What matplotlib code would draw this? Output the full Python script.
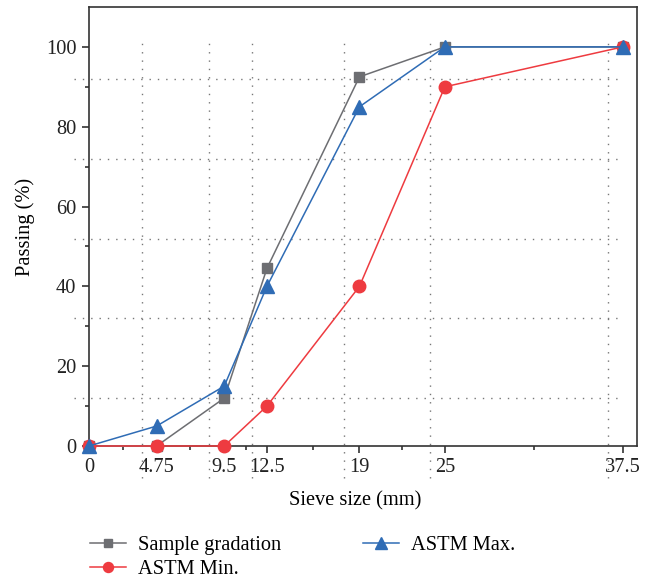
import matplotlib
matplotlib.use("Agg")
import matplotlib.pyplot as plt
import matplotlib.transforms as mtransforms
from matplotlib.ticker import FixedLocator

sieve = [0, 4.75, 9.5, 12.5, 19, 25, 37.5]
sieve_labels = ["0", "4.75", "9.5", "12.5", "19", "25", "37.5"]
sample = [0, 0, 12, 44.5, 92.5, 100, 100]
astm_min = [0, 0, 0, 10, 40, 90, 100]
astm_max = [0, 5, 15, 40, 85, 100, 100]
y_ticks = [0, 20, 40, 60, 80, 100]

plt.rcParams['font.family'] = ['Liberation Serif', 'DejaVu Serif']
FS = 14.7

fig = plt.figure(figsize=(6.53, 5.84), dpi=100)
ax = fig.add_axes([89/653, 1-446/584, (637-89)/653, (446-7)/584])

c_gray = '#6d6e72'
c_red = '#ee3b40'
c_blue = '#2f6cb5'

l1, = ax.plot(sieve, sample, color=c_gray, lw=1.1, marker='s', ms=7.5, clip_on=False, zorder=3, label='Sample gradation')
l2, = ax.plot(sieve, astm_min, color=c_red, lw=1.1, marker='o', ms=9, clip_on=False, zorder=4, label='ASTM Min.')
l3, = ax.plot(sieve, astm_max, color=c_blue, lw=1.1, marker='^', ms=10, clip_on=False, zorder=5, label='ASTM Max.')

ax.set_xlim(0, 38.5)
ax.set_ylim(0, 110)
ax.set_xticks(sieve)
ax.set_xticklabels(sieve_labels)
mids = [(a + b) / 2 for a, b in zip(sieve[:-1], sieve[1:])]
ax.xaxis.set_minor_locator(FixedLocator(mids))
ax.set_yticks(y_ticks)
ax.yaxis.set_minor_locator(FixedLocator([v + 10 for v in y_ticks[:-1]]))

ax.tick_params(which='major', direction='out', length=5, width=1.1, colors='#222222', labelsize=FS, pad=4)
ax.tick_params(which='minor', direction='out', length=3, width=1.1, colors='#222222')
for s in ax.spines.values():
    s.set_color('#333333')
    s.set_linewidth(1.2)

# shifted dotted grid (as in reference rendering)
off = mtransforms.ScaledTranslation(-15/100, -32/100, fig.dpi_scale_trans)
for xv in sieve[1:]:
    ax.plot([xv, xv], [0, 1], color='#777777', lw=1.0, ls=(0, (1, 5)), clip_on=False,
            transform=ax.get_xaxis_transform() + off, zorder=1)
for yv in y_ticks[1:]:
    ax.plot([0, 1], [yv, yv], color='#777777', lw=1.0, ls=(0, (1, 5)), clip_on=False,
            transform=ax.get_yaxis_transform() + off, zorder=1)

ax.set_xlabel('Sieve size (mm)', fontsize=FS)
ax.xaxis.set_label_coords((355-89)/548, -(501-446)/439, transform=ax.transAxes)
ax.xaxis.label.set_va('center')
ax.set_ylabel('Passing (%)', fontsize=FS, labelpad=8)

fig.legend(handles=[l1, l2, l3], ncol=2, loc='upper left',
           bbox_to_anchor=(90/653, 1-536/584), frameon=False, fontsize=FS,
           handlelength=1.75, handletextpad=0.6, columnspacing=4.0,
           labelspacing=0.22, borderpad=0, borderaxespad=0, markerscale=0.8)

fig.savefig('out.png', dpi=100)
